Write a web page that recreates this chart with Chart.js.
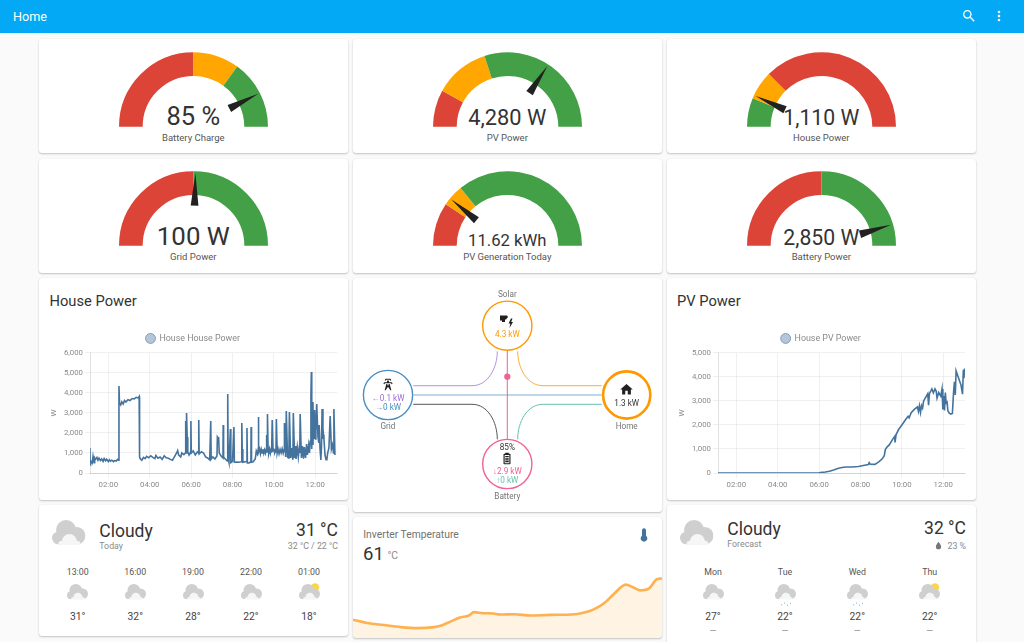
<!DOCTYPE html>
<html><head><meta charset="utf-8">
<script src="https://cdn.jsdelivr.net/npm/chart.js@4"></script>
<style>
html,body{margin:0;padding:0;width:1024px;height:642px;overflow:hidden;background:#fafafa;font-family:Roboto,sans-serif;color:#212121}
.abs{position:absolute}
.card{position:absolute;background:#fff;border-radius:3px;box-shadow:0 1px 2px rgba(0,0,0,.22),0 0 1px rgba(0,0,0,.08);overflow:hidden}
.t{position:absolute;white-space:nowrap;line-height:1;transform:translate(-50%,-50%)}
.l{transform:translate(0,-50%)}
.r{transform:translate(-100%,-50%)}
canvas{position:absolute;display:block}
#bar{position:absolute;left:0;top:0;width:1024px;height:33px;background:#03a9f4;color:#fff}
</style></head><body>
<div id="bar"><div class="t l" style="left:13px;top:16.5px;font-size:12.6px">Home</div>
<svg class="abs" style="left:961px;top:8px" width="16" height="16" viewBox="0 0 24 24"><path fill="#fff" d="M9.5,3A6.5,6.5 0 0,1 16,9.5C16,11.11 15.41,12.59 14.44,13.73L14.71,14H15.5L20.5,19L19,20.5L14,15.5V14.71L13.73,14.44C12.59,15.41 11.11,16 9.5,16A6.5,6.5 0 0,1 3,9.5A6.5,6.5 0 0,1 9.5,3M9.5,5C7,5 5,7 5,9.5C5,12 7,14 9.5,14C12,14 14,12 14,9.5C14,7 12,5 9.5,5Z"/></svg>
<svg class="abs" style="left:991px;top:8px" width="16" height="16" viewBox="0 0 24 24"><path fill="#fff" d="M12,16A2,2 0 0,1 14,18A2,2 0 0,1 12,20A2,2 0 0,1 10,18A2,2 0 0,1 12,16M12,10A2,2 0 0,1 14,12A2,2 0 0,1 12,14A2,2 0 0,1 10,12A2,2 0 0,1 12,10M12,4A2,2 0 0,1 14,6A2,2 0 0,1 12,8A2,2 0 0,1 10,6A2,2 0 0,1 12,4Z"/></svg>
</div>
<div id="root"></div>
<svg width="0" height="0" style="position:absolute"><defs>
<symbol id="cloud" viewBox="0 0 100 73"><g fill="#cfcfcf"><circle cx="42" cy="30" r="30"/><circle cx="74" cy="47" r="26"/><circle cx="19" cy="54" r="19"/><rect x="19" y="50" width="55" height="23"/></g><g fill="#f6f6f6"><circle cx="52" cy="64" r="22"/><circle cx="30" cy="73" r="11"/><circle cx="74" cy="73" r="11"/></g></symbol>
</defs></svg>
<script>
const red='#db4437',orange='#ffa600',green='#43a047';
const gaugeNames=['Battery Charge','PV Power','House Power','Grid Power','PV Generation Today','Battery Power'];
const gaugeTexts=['85 %','4,280 W','1,110 W','100 W','11.62 kWh','2,850 W'];
const gaugeValues=[85,4280,1110,100,11.62,2850];
const gaugeMins=[0,0,0,-6000,0,-3500];
const gaugeMaxes=[100,6250,8000,6000,53,3500];
const gaugeStops=[[50,70,100],[1000,2500,6250],[1000,2000,8000],[0,6000],[10,15,53],[0,3500]];
const gaugeColors=[[red,orange,green],[red,orange,green],[green,orange,red],[red,green],[red,orange,green],[red,green]];

const houseHours=[1.11,1.12,1.14,1.18,1.22,1.26,1.29,1.31,1.34,1.38,1.45,1.5,1.55,1.62,1.68,1.75,1.8,1.87,1.92,2.0,2.05,2.1,2.17,2.25,2.3,2.38,2.45,2.5,2.515,2.54,2.6,2.65,2.72,2.78,2.85,2.95,3.05,3.15,3.25,3.35,3.45,3.49,3.51,3.55,3.62,3.7,3.78,3.85,3.95,4.05,4.15,4.25,4.3,4.4,4.5,4.6,4.7,4.8,4.9,5.0,5.1,5.2,5.3,5.35,5.4,5.5,5.55,5.65,5.72,5.74,5.76,5.78,5.81,5.84,5.9,5.97,5.99,6.01,6.1,6.2,6.3,6.36,6.37,6.39,6.5,6.6,6.7,6.8,6.9,6.95,6.97,7.05,7.15,7.25,7.27,7.3,7.33,7.36,7.45,7.54,7.55,7.57,7.65,7.75,7.77,7.79,7.83,7.9,7.92,8.0,8.07,8.09,8.2,8.3,8.44,8.45,8.47,8.5,8.6,8.69,8.7,8.72,8.8,8.89,8.9,8.92,9.0,9.1,9.15,9.2,9.24,9.25,9.27,9.31,9.35,9.39,9.43,9.47,9.51,9.55,9.59,9.63,9.65,9.67,9.69,9.72,9.75,9.79,9.83,9.87,9.89,9.9,9.92,9.96,10.0,10.04,10.09,10.1,10.12,10.16,10.2,10.25,10.3,10.35,10.4,10.45,10.49,10.5,10.52,10.57,10.58,10.6,10.66,10.7,10.73,10.75,10.81,10.86,10.91,10.92,10.94,11.0,11.05,11.07,11.13,11.18,11.24,11.25,11.27,11.33,11.38,11.43,11.47,11.53,11.58,11.62,11.68,11.72,11.76,11.79,11.81,11.83,11.85,11.89,11.91,11.93,11.97,12.01,12.03,12.07,12.13,12.17,12.19,12.23,12.27,12.3,12.33,12.37,12.4,12.42,12.47,12.52,12.56,12.6,12.66,12.72,12.78,12.83,12.88,12.9,12.95,12.99,13.02,13.05];
const houseWatts=[1250,520,480,560,500,820,600,520,750,680,780,640,740,620,700,580,720,610,690,570,660,590,640,570,620,600,680,640,4350,3500,3400,3560,3450,3620,3540,3660,3620,3720,3700,3780,3750,3820,800,700,640,780,720,830,760,860,780,720,880,740,800,680,860,760,740,680,640,820,1000,1120,900,800,1000,920,1000,2600,1000,3000,1800,1050,900,1050,2600,1000,1100,900,1050,1000,2650,950,1060,1000,800,750,650,2600,700,800,700,850,1800,1750,1800,1000,850,750,2400,800,700,600,3950,700,520,2200,520,580,2300,540,550,540,560,2500,1200,540,560,560,2250,500,500,560,2300,540,560,700,1100,960,1180,2800,1050,1200,960,1180,1000,1190,980,1150,1000,1200,1900,1050,2950,1250,1000,1200,980,1180,1020,1240,2650,1100,1220,1000,1180,1020,2700,1000,1200,960,1180,1000,1210,990,1160,1050,2500,800,800,3100,800,750,1300,3050,750,1250,700,780,3000,750,1350,700,1300,800,1400,1000,2950,750,1350,720,1300,750,1450,900,1400,1000,1600,3800,5050,1200,3550,1400,3100,1700,3150,1700,2100,3450,1800,1500,2400,1200,650,1300,3200,1700,1900,1700,900,660,680,1000,1250,2850,1200,1400,1000,3200,900];

const pvHours=[1.11,3,5,5.8,6,6.15,6.3,6.5,6.7,6.9,7.1,7.3,7.6,7.9,8.2,8.38,8.42,8.47,8.7,8.9,9.05,9.15,9.2,9.28,9.4,9.55,9.65,9.67,9.72,9.85,10,10.2,10.3,10.35,10.45,10.6,10.75,10.8,10.85,10.9,10.95,11,11.05,11.15,11.25,11.29,11.33,11.45,11.52,11.6,11.66,11.7,11.78,11.88,11.94,11.98,12.02,12.06,12.1,12.14,12.18,12.22,12.28,12.36,12.44,12.5,12.54,12.58,12.62,12.7,12.78,12.86,12.93,12.97,13.0,13.03,13.05];
const pvWatts=[0,0,0,0,10,25,40,75,125,190,230,250,250,270,320,350,430,370,360,470,590,720,980,1080,1180,1400,1520,1270,1600,1820,2000,2250,2360,2300,2510,2650,2750,2560,2800,2520,2800,2700,3000,3150,3300,2820,3300,3500,3340,3500,3400,3120,3350,3200,3500,2650,3200,2600,3350,2900,3000,2600,2500,2450,2480,3400,3800,3250,4250,4050,3850,3650,3280,4300,3950,4350,4150];
const xTickHours=[2,4,6,8,10,12];

const tempHours=[0,1.1,2.4,3.7,5,6.3,6.8,7.6,8.3,9,9.4,10.1,10.9,11.4,12.5,13.8,15.3,17,17.9,18.7,19.5,20.2,21.2,21.7,22.3,23,23.6,24];
const tempValues=[48.8,47.8,47.2,46.6,46.3,46.6,47,48.3,49.4,50,51,50.7,50.6,50.3,50.4,50,50.2,50.3,50.8,51.8,53.6,56.1,59.1,58.4,57.4,58,60.7,60.9];

const todayLabels=['13:00','16:00','19:00','22:00','01:00'];
const todayTemps=['31°','32°','28°','22°','18°'];
const todayIcons=['c','c','c','c','s'];
const forecastLabels=['Mon','Tue','Wed','Thu'];
const forecastTemps=['27°','22°','22°','22°'];
const forecastIcons=['c','r','r','s'];

const root=document.getElementById('root');
function el(html){root.insertAdjacentHTML('beforeend',html);}
function card(x,y,w,h){el(`<div class="card" style="left:${x}px;top:${y}px;width:${w}px;height:${h}px"></div>`);}
function txt(x,y,s,size,color,cls='',w=400){el(`<div class="t ${cls}" style="left:${x}px;top:${y}px;font-size:${size}px;color:${color};font-weight:${w}">${s}</div>`);}

// cards
const colX=[39,353,667],cardW=309;
[39,158.5].forEach(y=>colX.forEach(x=>card(x,y,cardW,114)));
card(39,278,cardW,222);card(353,278,cardW,234);card(667,278,cardW,222);
card(39,505,cardW,131);card(353,517,cardW,121);card(667,505,cardW,150);

// gauges
const needle={id:'needle',afterDatasetsDraw(c,a,o){
  const arc=c.getDatasetMeta(0).data[0];const cx=arc.x,cy=arc.y,R=arc.outerRadius;
  const f=(o.value-o.min)/(o.max-o.min),ang=Math.PI*(1-f);
  const dx=Math.cos(ang),dy=-Math.sin(ang),nx=-dy,ny=dx;
  const r0=R*0.54,r1=R*0.975,hw=R*0.052,g=c.ctx;
  g.save();g.fillStyle='#212121';g.beginPath();
  g.moveTo(cx+dx*r0+nx*hw,cy+dy*r0+ny*hw);g.lineTo(cx+dx*r1,cy+dy*r1);g.lineTo(cx+dx*r0-nx*hw,cy+dy*r0-ny*hw);
  g.closePath();g.fill();g.restore();}};
const gaugeCx=[193.3,507.3,821.3,193.3,507.3,821.3],gaugeBase=[126.7,126.7,126.7,246.3,246.3,246.3];
const gaugeFont=[25.5,21.8,21.2,25.9,16.7,21.2],gaugeTextY=[116.8,118,118,236.6,241.3,237.6],gaugeLabelY=[137.6,137.6,137.6,257,257,257];
gaugeNames.forEach((n,i)=>{
  txt(gaugeCx[i],gaugeTextY[i],gaugeTexts[i],gaugeFont[i],'#333');
  txt(gaugeCx[i],gaugeLabelY[i],n,9.5,'#555');
  el(`<canvas id="g${i}" width="149" height="75" style="left:${gaugeCx[i]-74.5}px;top:${gaugeBase[i]-75}px;width:149px;height:75px"></canvas>`);
});
gaugeNames.forEach((n,i)=>{
  const st=gaugeStops[i];let p=gaugeMins[i];const segs=st.map(v=>{const d=v-p;p=v;return d;});
  new Chart(document.getElementById('g'+i),{type:'doughnut',plugins:[needle],data:{labels:st.map(String),datasets:[{data:segs,backgroundColor:gaugeColors[i],borderWidth:0,hoverOffset:0}]},
   options:{responsive:false,animation:false,rotation:-90,circumference:180,cutout:'68.2%',layout:{padding:0},events:[],
   plugins:{legend:{display:false},tooltip:{enabled:false},needle:{value:gaugeValues[i],min:gaugeMins[i],max:gaugeMaxes[i]}}}});
});

// line charts
const LINE='#44739e';
function hist(id,x,y,w,h,hours,vals,label,yMax,plot){
  el(`<canvas id="${id}" width="${w}" height="${h}" style="left:${x}px;top:${y}px;width:${w}px;height:${h}px"></canvas>`);
  new Chart(document.getElementById(id),{type:'line',data:{datasets:[{label,data:hours.map((t,i)=>({x:t,y:vals[i]})),borderColor:LINE,backgroundColor:LINE+'66',borderWidth:1.6,pointRadius:0,fill:false,tension:0}]},
  options:{responsive:false,animation:false,parsing:false,events:[],layout:{padding:{left:10,right:plot.right,top:0,bottom:0}},
   plugins:{tooltip:{enabled:false},legend:{display:true,position:'top',labels:{usePointStyle:true,pointStyle:'circle',boxWidth:10,boxHeight:7,padding:plot.legendPad,color:'#8a8a8a',font:{family:'Roboto',size:8.9},
     generateLabels:c=>Chart.defaults.plugins.legend.labels.generateLabels(c).map(l=>({...l,strokeStyle:'#7f9dbb',lineWidth:1}))}}},
   scales:{
    x:{type:'linear',min:plot.xMin,max:plot.xMax,grid:{color:'rgba(0,0,0,.08)',tickLength:5,lineWidth:.8},border:{color:'rgba(0,0,0,.12)'},
      afterBuildTicks(s){s.ticks=xTickHours.map(v=>({value:v}));},
      afterFit(s){s.height=plot.xh;},
      ticks:{autoSkip:false,maxRotation:0,color:'#8a8a8a',padding:2,font:{family:'Roboto',size:7.8},callback:v=>String(v).padStart(2,'0')+':00'}},
    y:{min:0,max:yMax,grid:{color:'rgba(0,0,0,.08)',tickLength:5,lineWidth:.8},border:{color:'rgba(0,0,0,.12)'},
      afterFit(s){s.width=plot.yw;},
      title:{display:true,text:'W',color:'#8a8a8a',padding:0,font:{family:'Roboto',size:8}},
      ticks:{stepSize:1000,color:'#8a8a8a',padding:2,font:{family:'Roboto',size:7.8},callback:v=>v.toLocaleString('en-US')}}}}});
}
txt(49.5,301,'House Power',14.7,'#333','l');
txt(677,301,'PV Power',14.7,'#333','l');
hist('house',39,326,309,172,houseHours,houseWatts,'House House Power',6000,{xMin:1.115,xMax:13.05,right:11,legendPad:8,xh:25,yw:41});
hist('pv',667,326,309,172,pvHours,pvWatts,'House PV Power',5000,{xMin:1.115,xMax:13.05,right:11,legendPad:8,xh:25,yw:41});

// inverter card
txt(363.3,535,'Inverter Temperature',10.3,'#727272','l');
txt(363,553.5,'61',18.5,'#333','l');
txt(387.5,556,'°C',10.3,'#8a8a8a','l');
el(`<svg class="abs" style="left:636px;top:527px" width="16" height="16" viewBox="0 0 24 24"><path fill="#44739e" d="M15 13V5A3 3 0 0 0 9 5V13A5 5 0 1 0 15 13Z"/></svg>`);
el(`<canvas id="temp" width="309" height="68" style="left:353px;top:570px;width:309px;height:68px;border-radius:0 0 3px 3px"></canvas>`);
new Chart(document.getElementById('temp'),{type:'line',data:{datasets:[{data:tempHours.map((t,i)=>({x:t,y:tempValues[i]})),borderColor:'#ffb04f',backgroundColor:'rgba(255,167,38,.13)',borderWidth:2.6,pointRadius:0,fill:'origin',cubicInterpolationMode:'monotone'}]},
 options:{responsive:false,animation:false,parsing:false,events:[],layout:{padding:0},plugins:{legend:{display:false},tooltip:{enabled:false}},
 scales:{x:{type:'linear',display:false,min:0,max:24},y:{display:false,min:43.4,max:63.4}}}});

// weather
function cloud(x,y,w,kind){const h=w*.73;
 let s=`<svg class="abs" style="left:${x}px;top:${y}px;overflow:visible" width="${w}" height="${h}" viewBox="0 0 100 73">`;
 if(kind==='s')s+=`<circle cx="76" cy="16" r="20" fill="#f9d648"/>`;
 s+=`<use href="#cloud" width="100" height="73"/>`;
 if(kind==='r')[[30,96],[44,88],[58,98],[72,90]].forEach(p=>s+=`<rect x="${p[0]}" y="${p[1]}" width="4" height="6" fill="#6cb8e6"/>`);
 return el(s+'</svg>');}
cloud(52.3,520,33.5);
txt(99.3,531.5,'Cloudy',17.5,'#333','l');txt(99.3,546,'Today',8.8,'#8a8a8a','l');
txt(338,531,'31 °C',17.5,'#333','r');txt(338,546,'32 °C / 22 °C',8.8,'#8a8a8a','r');
const todayX=[77.7,135.3,193,251,309];
todayLabels.forEach((l,i)=>{txt(todayX[i],571.7,l,8.8,'#555');cloud(todayX[i]-10.5,584,21,todayIcons[i]);txt(todayX[i],617,todayTemps[i],10.3,'#444');});
cloud(680,520,33.5);
txt(727.3,529.5,'Cloudy',17.5,'#333','l');txt(727.3,544,'Forecast',8.8,'#8a8a8a','l');
txt(966,529,'32 °C',17.5,'#333','r');txt(966,545.5,'23 %',8.8,'#8a8a8a','r');
el(`<svg class="abs" style="left:934px;top:541px" width="9" height="9" viewBox="0 0 24 24"><path fill="#777" d="M12 2C8 8 5 11 5 15a7 7 0 0 0 14 0c0-4-3-7-7-13Z"/></svg>`);
const fcX=[713,785,857.3,929.7];
forecastLabels.forEach((l,i)=>{txt(fcX[i],571.7,l,8.8,'#555');cloud(fcX[i]-10.5,584,21,forecastIcons[i]);txt(fcX[i],617.3,forecastTemps[i],10.3,'#444');txt(fcX[i],631,'—',8.8,'#888');});

// power flow diagram
el(`<svg class="abs" style="left:0;top:0" width="1024" height="642" font-family="Roboto" text-anchor="middle">
<g fill="none" stroke-width="1">
<path d="M413.3 385.7H472C488 385.7 497.3 368 497.3 351.3" stroke="#9b6dd6" stroke-opacity=".75"/>
<path d="M517.7 351.3C517.7 368 527 385.7 543 385.7H601.7" stroke="#ff9800" stroke-opacity=".8"/>
<path d="M601.7 404.3H543C527 404.3 517.7 422 517.7 439.3" stroke="#69bfb2"/>
<path d="M413.3 404.3H472C488 404.3 497.3 422 497.3 439.3" stroke="#555"/>
<path d="M413.3 395H601.7" stroke="#a9c9e2" stroke-width="1.6"/>
<path d="M507.3 350.7V439.3" stroke="#f06292"/>
</g>
<circle cx="507.3" cy="376.7" r="3.1" fill="#f06292"/>
<g fill="#fff" stroke-width="1.4">
<circle cx="507.3" cy="325.7" r="24.6" stroke="#ff9800"/>
<circle cx="388" cy="395" r="24.6" stroke="#488fc2"/>
<circle cx="507.3" cy="464" r="24.6" stroke="#f06292"/>
<circle cx="626.7" cy="395" r="23.6" stroke="#ff9800" stroke-width="2.6"/>
</g>
<g font-size="8.2" fill="#757575">
<text x="507.3" y="297">Solar</text><text x="388" y="429">Grid</text><text x="626.7" y="429">Home</text><text x="507.3" y="498.5">Battery</text>
</g>
<text x="507.3" y="336.5" font-size="8.2" fill="#ff9800">4.3 kW</text>
<g fill="#212121" transform="translate(499,314.5)"><path d="M1 1H8L9 2.5 7 5H6V7.5H3L3 6H1Z"/><path d="M12 4L9.5 9H11.3L10.5 13.5 14 7.5H12.2L13.5 4Z"/></g>
<svg x="381" y="377" width="14" height="15" viewBox="0 0 24 24"><path fill="#212121" d="M8.28,5.45L6.5,4.55L7.76,2H16.23L17.5,4.55L15.72,5.44L15,4H9L8.28,5.45M18.62,8H14.09L13.3,5H10.7L9.91,8H5.38L4.1,10.55L5.89,11.44L6.62,10H17.38L18.1,11.45L19.89,10.56L18.62,8M17.77,22H15.7L15.46,21.1L12,15.9L8.53,21.1L8.3,22H6.23L9.12,11H11.19L10.83,12.35L12,14.1L13.16,12.35L12.81,11H14.88L17.77,22Z"/></svg>
<text x="388" y="400.5" font-size="8.2" fill="#9b6dd6">←0.1 kW</text>
<text x="388" y="409.5" font-size="8.2" fill="#488fc2">→0 kW</text>
<svg x="619" y="382" width="15" height="15" viewBox="0 0 24 24"><path fill="#212121" d="M10,20V14H14V20H19V12H22L12,3L2,12H5V20H10Z"/></svg>
<text x="626.7" y="405.5" font-size="8.2" fill="#333">1.3 kW</text>
<text x="507.3" y="449.5" font-size="8.2" fill="#333">85%</text>
<svg x="500" y="451.5" width="14" height="14" viewBox="0 0 24 24"><path fill="#212121" d="M16.67,4H15V2H9V4H7.33A1.33,1.33 0 0,0 6,5.33V20.67C6,21.4 6.6,22 7.33,22H16.67A1.33,1.33 0 0,0 18,20.67V5.33C18,4.6 17.4,4 16.67,4M16,20H8V6H16V20M9,7.5H15V10H9V7.5M9,11.5H15V14H9V11.5M9,15.5H15V18.5H9V15.5Z"/></svg>
<text x="507.3" y="474" font-size="8.2" fill="#f06292">↓2.9 kW</text>
<text x="507.3" y="482.5" font-size="8.2" fill="#69bfb2">↑0 kW</text>
</svg>`);
</script>
</body></html>
